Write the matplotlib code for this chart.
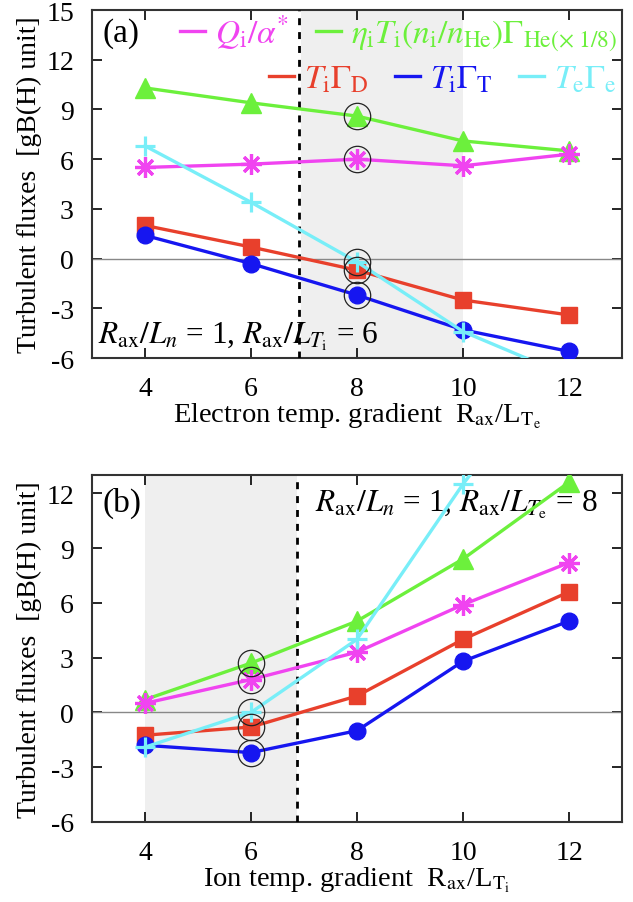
import matplotlib
matplotlib.use("Agg")
import matplotlib.pyplot as plt
from matplotlib.lines import Line2D
import numpy as np

plt.rcParams['font.family'] = ['Liberation Serif', 'DejaVu Serif']
plt.rcParams['mathtext.fontset'] = 'stix'
plt.rcParams['axes.unicode_minus'] = False

# datos
grad = [4, 6, 8, 10, 12]

# (a) barrido en R/L_Te
a_he = [10.3, 9.4, 8.6, 7.1, 6.5]
a_qi = [5.5, 5.7, 6.0, 5.6, 6.3]
a_d = [2.0, 0.7, -0.7, -2.5, -3.4]
a_t = [1.4, -0.3, -2.2, -4.3, -5.6]
a_e = [6.8, 3.4, -0.2, -4.4, -7.1]

# (b) barrido en R/L_Ti
b_he = [0.7, 2.7, 5.0, 8.4, 12.6]
b_qi = [0.5, 1.8, 3.3, 5.9, 8.2]
b_d = [-1.25, -0.8, 0.9, 4.0, 6.6]
b_t = [-1.8, -2.2, -1.0, 2.8, 5.0]
b_e = [-1.9, 0.0, 4.0, 12.5, 20.0]

# punto de referencia marcado con circulos
a_ref = 8
b_ref = 6
dashed_a = 6.9
dashed_b = 6.87
shade_a = (6.95, 10)
shade_b = (4, 6.87)

c_qi = '#f044f0'
c_he = '#6cf03c'
c_d = '#e8402c'
c_t = '#1616f0'
c_e = '#78eef8'

lab_qi = r'$Q_{\rm i}/\alpha^{*}$'
lab_he = r'$\eta_{\rm i}T_{\rm i}(n_{\rm i}/n_{\rm He})\Gamma_{\rm He(\times\ 1/8)}$'
lab_d = r'$T_{\rm i}\Gamma_{\rm D}$'
lab_t = r'$T_{\rm i}\Gamma_{\rm T}$'
lab_e = r'$T_{\rm e}\Gamma_{\rm e}$'

FS = 20


def dibujar(ax, he, qi, d, t, e, ref):
    lw = 2.4
    ax.plot(grad, he, '-^', color=c_he, lw=lw, ms=14, zorder=4)
    ax.plot(grad, qi, '-', color=c_qi, lw=lw, zorder=4)
    ax.plot(grad, qi, ls='none', marker=(8, 2, 0), color=c_qi, ms=15, mew=2.3, zorder=5)
    ax.plot(grad, d, '-s', color=c_d, lw=lw, ms=11, zorder=4)
    ax.plot(grad, t, '-o', color=c_t, lw=lw, ms=12, zorder=4)
    ax.plot(grad, e, '-+', color=c_e, lw=lw, ms=15, mew=2.3, zorder=6)
    i = grad.index(ref)
    for serie in (he, qi, d, t, e):
        ax.plot(ref, serie[i], 'o', ms=19, mfc='none', mec='#222222', mew=0.9, zorder=7)
    ax.axhline(0, color='#888888', lw=1.0, zorder=2)
    ax.set_xlim(3, 13)
    ax.set_xticks(grad)
    ax.tick_params(direction='in', length=7, width=1.2, top=True, right=True,
                   labelsize=FS, pad=13)
    for s in ax.spines.values():
        s.set_linewidth(1.5)
        s.set_color('#333333')
    ax.set_ylabel('Turbulent fluxes  [gB(H) unit]', fontsize=FS)
    ax.yaxis.set_label_coords(-0.094, 0.5)


fig = plt.figure(figsize=(6.33, 9.03), dpi=100)
ax1 = fig.add_axes([0.1453, 0.6024, 0.8373, 0.3854])
ax2 = fig.add_axes([0.1453, 0.0886, 0.8373, 0.3843])

# panel (a)
ax1.axvspan(*shade_a, color='#efefef', lw=0, zorder=0)
ax1.axvline(dashed_a, color='black', ls=(0, (2.5, 2.5)), lw=2, zorder=3)
dibujar(ax1, a_he, a_qi, a_d, a_t, a_e, a_ref)
ax1.set_ylim(-6, 15)
ax1.set_yticks(np.arange(-6, 16, 3))
ax1.set_xlabel(r'Electron temp. gradient  R$_{\rm ax}$/L$_{\rm T_e}$', fontsize=FS + 0.5, labelpad=0)
ax1.text(0.02, 0.935, '(a)', transform=ax1.transAxes, fontsize=24, va='center')
ax1.text(0.012, 0.063, r'$R_{\rm ax}/L_n$ = 1, $R_{\rm ax}/L_{T_{\rm i}}$ = 6',
         transform=ax1.transAxes, fontsize=22.5, va='center')

kw = dict(frameon=False, fontsize=24, handlelength=0.75, handletextpad=0.3,
          columnspacing=0.8, borderpad=0, borderaxespad=0, labelcolor='linecolor')
h1 = [Line2D([], [], color=c_qi, lw=2.4), Line2D([], [], color=c_he, lw=2.4)]
leg1 = ax1.legend(h1, [lab_qi, lab_he], ncol=2, loc='center right',
                  bbox_to_anchor=(0.99, 0.934), **kw)
ax1.add_artist(leg1)
h2 = [Line2D([], [], color=c_d, lw=2.4), Line2D([], [], color=c_t, lw=2.4),
      Line2D([], [], color=c_e, lw=2.4)]
ax1.legend(h2, [lab_d, lab_t, lab_e], ncol=3, loc='center right',
           bbox_to_anchor=(0.99, 0.802), **kw)

# panel (b)
ax2.axvspan(*shade_b, color='#efefef', lw=0, zorder=0)
ax2.axvline(dashed_b, color='black', ls=(0, (2.5, 2.5)), lw=2, zorder=3)
dibujar(ax2, b_he, b_qi, b_d, b_t, b_e, b_ref)
ax2.set_ylim(-6, 13)
ax2.set_yticks(np.arange(-6, 13, 3))
ax2.set_xlabel(r'Ion temp. gradient  R$_{\rm ax}$/L$_{\rm T_i}$', fontsize=FS + 0.5, labelpad=0)
ax2.text(0.02, 0.922, '(b)', transform=ax2.transAxes, fontsize=24, va='center')
ax2.text(0.955, 0.916, r'$R_{\rm ax}/L_n$ = 1, $R_{\rm ax}/L_{T_{\rm e}}$ = 8',
         transform=ax2.transAxes, fontsize=22.5, va='center', ha='right')

fig.savefig('out.png', dpi=100)
plt.close(fig)
